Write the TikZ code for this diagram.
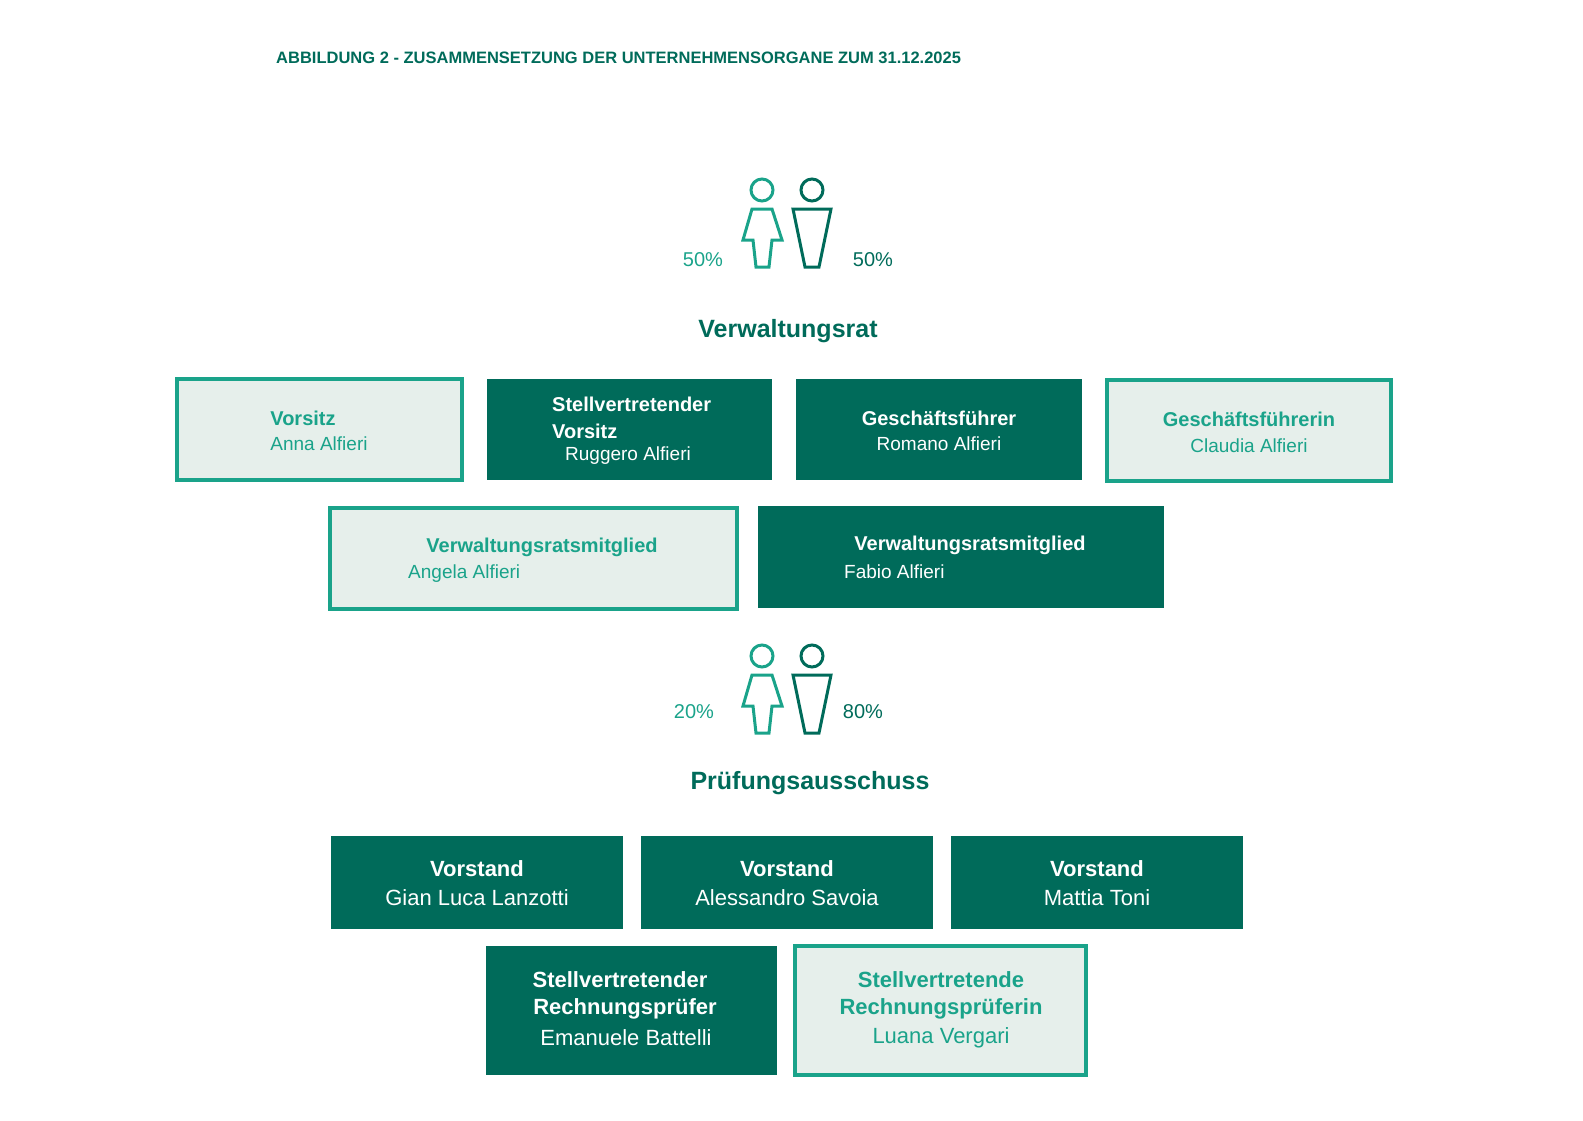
\documentclass[tikz,border=0pt]{standalone}
\usepackage{fontspec}
\setmainfont{Liberation Sans}
\begin{document}
\definecolor{dk}{HTML}{006B5A}
\definecolor{lt}{HTML}{1AA38A}
\definecolor{bg}{HTML}{E6EFEB}
\begin{tikzpicture}[x=1pt,y=-1pt,
  dbox/.style={fill=dk,draw=none},
  lbox/.style={fill=bg,draw=lt,line width=3.5pt},
  t/.style={inner sep=0pt,anchor=center},
  bw/.style={t,text=white,font=\fontsize{20}{22}\selectfont\bfseries},
  nw/.style={t,text=white,font=\fontsize{19}{22}\selectfont},
  bl/.style={t,text=lt,font=\fontsize{20}{22}\selectfont\bfseries},
  nl/.style={t,text=lt,font=\fontsize{19}{22}\selectfont},
  bw2/.style={t,text=white,font=\fontsize{22}{24}\selectfont\bfseries},
  nw2/.style={t,text=white,font=\fontsize{22}{24}\selectfont},
  bl2/.style={t,text=lt,font=\fontsize{22}{24}\selectfont\bfseries},
  nl2/.style={t,text=lt,font=\fontsize{22}{24}\selectfont},
  head/.style={t,text=dk,font=\fontsize{25}{28}\selectfont\bfseries},
  pct/.style={t,font=\fontsize{20}{22}\selectfont},
  ic/.style={line width=3pt,line join=miter}]
\useasboundingbox (0,0) rectangle (1583,1121);
\node[t,anchor=west,text=dk,font=\fontsize{16.5}{18}\selectfont\bfseries] (title) at (276,58) {ABBILDUNG 2 - ZUSAMMENSETZUNG DER UNTERNEHMENSORGANE ZUM 31.12.2025};
% icons
\foreach \yy/\s in {0/a,466/b}{
  \begin{scope}[yshift=-\yy pt]
  \draw[ic,lt] (762,190) circle (11);
  \draw[ic,lt] (752,209) -- (772,209) -- (782,240) -- (772,240) -- (769,267) -- (756,267) -- (753,240) -- (743,240) -- cycle;
  \draw[ic,dk] (812,190) circle (11);
  \draw[ic,dk] (793,209) -- (831,209) -- (819,267) -- (805,267) -- cycle;
  \end{scope}}
\node[pct,text=lt] (p1) at (703,260) {50\%};
\node[pct,text=dk] (p2) at (873,260) {50\%};
\node[pct,text=lt] (p3) at (694,712) {20\%};
\node[pct,text=dk] (p4) at (863,712) {80\%};
\node[head] (h1) at (788,331) {Verwaltungsrat};
\node[head] (h2) at (810,783) {Prüfungsausschuss};
% row 1
\draw[lbox] (177,379) rectangle (462,480);
\node[bl] (a1) at (303,418) {Vorsitz};
\node[nl] (a2) at (319,444) {Anna Alfieri};
\draw[dbox] (487,379) rectangle (772,480);
\node[bw,anchor=west] (b1) at (552,404) {Stellvertretender};
\node[bw,anchor=west] (b2) at (552,431) {Vorsitz};
\node[nw] (b3) at (628,456) {Ruggero Alfieri};
\draw[dbox] (796,379) rectangle (1082,480);
\node[bw] (c1) at (939,418) {Geschäftsführer};
\node[nw] (c2) at (939,444) {Romano Alfieri};
\draw[lbox] (1107,380) rectangle (1391,481);
\node[bl] (d1) at (1249,419) {Geschäftsführerin};
\node[nl] (d2) at (1249,446) {Claudia Alfieri};
% row 2
\draw[lbox] (330,508) rectangle (737,609);
\node[bl] (e1) at (542,547) {Verwaltungsratsmitglied};
\node[nl,anchor=west] (e2) at (408,574) {Angela Alfieri};
\draw[dbox] (758,506) rectangle (1164,608);
\node[bw] (f1) at (970,545) {Verwaltungsratsmitglied};
\node[nw,anchor=west] (f2) at (844,572) {Fabio Alfieri};
% row 3
\draw[dbox] (331,836) rectangle (623,929);
\node[bw2] (g1) at (477,869) {Vorstand};
\node[nw2] (g2) at (477,898) {Gian Luca Lanzotti};
\draw[dbox] (641,836) rectangle (933,929);
\node[bw2] (h1b) at (787,869) {Vorstand};
\node[nw2] (h2b) at (787,898) {Alessandro Savoia};
\draw[dbox] (951,836) rectangle (1243,929);
\node[bw2] (i1) at (1097,869) {Vorstand};
\node[nw2] (i2) at (1097,898) {Mattia Toni};
% row 4
\draw[dbox] (486,946) rectangle (777,1075);
\node[bw2] (j1) at (620,980) {Stellvertretender};
\node[bw2] (j2) at (625,1009) {Rechnungsprüfer};
\node[nw2] (j3) at (626,1038) {Emanuele Battelli};
\draw[lbox] (795,946) rectangle (1086,1075);
\node[bl2] (k1) at (941,980) {Stellvertretende};
\node[bl2] (k2) at (941,1009) {Rechnungsprüferin};
\node[nl2] (k3) at (941,1038) {Luana Vergari};
\end{tikzpicture}
\end{document}
